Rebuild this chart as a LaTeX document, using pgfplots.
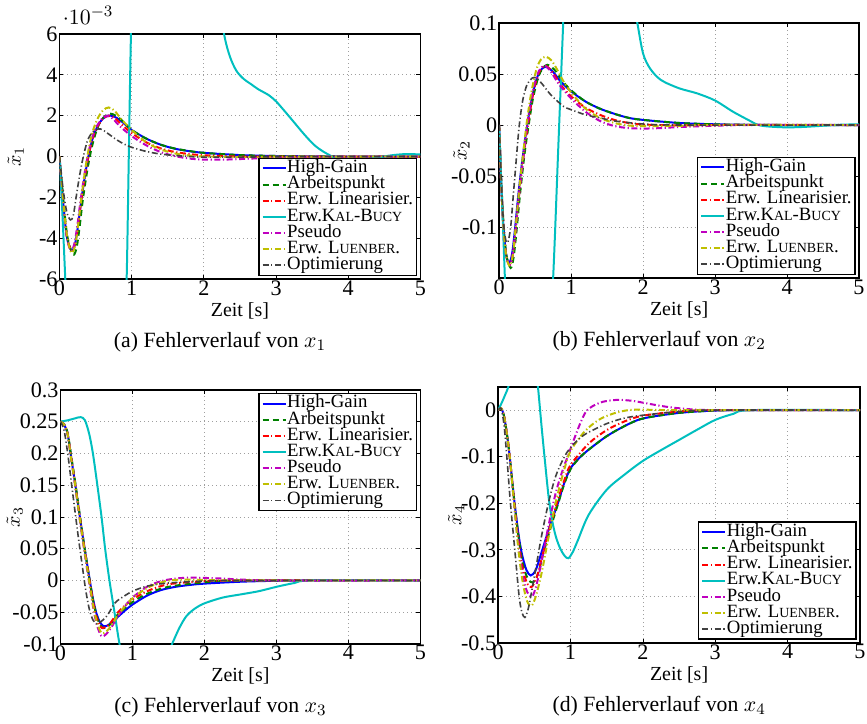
\documentclass[border=0pt]{standalone}
\usepackage{fontspec}
\setmainfont{Liberation Serif}
\usepackage{pgfplots}
\pgfplotsset{compat=1.18}

% MATLAB-like line colours
\definecolor{mblue}{rgb}{0,0,1}
\definecolor{mgreen}{rgb}{0,0.5,0}
\definecolor{mred}{rgb}{1,0,0}
\definecolor{mcyan}{rgb}{0,0.75,0.75}
\definecolor{mmagenta}{rgb}{0.75,0,0.75}
\definecolor{molive}{rgb}{0.75,0.75,0}
\definecolor{mgray}{rgb}{0.25,0.25,0.25}

% reduced capitals for the observer names
\newcommand{\ksc}[1]{{\fontsize{7pt}{7pt}\selectfont #1}}

\tikzset{mdashdot/.style={dash pattern=on 3pt off 1.3pt on 0.6pt off 1.3pt}}

\pgfplotsset{
  hg/.style={mblue, solid, line width=1pt, smooth, no markers},
  ap/.style={mgreen, dash pattern=on 3pt off 2pt, line width=1pt, smooth, no markers},
  el/.style={mred, mdashdot, line width=1pt, smooth, no markers},
  kb/.style={mcyan, solid, line width=1pt, smooth, no markers},
  ps/.style={mmagenta, mdashdot, line width=1pt, smooth, no markers},
  lu/.style={molive, mdashdot, line width=1pt, smooth, no markers},
  op/.style={mgray, mdashdot, line width=0.8pt, smooth, no markers},
  errplot/.style={
    scale only axis,
    xmin=0, xmax=5, xtick={0,1,2,3,4,5},
    scaled y ticks=false,
    axis line style={line width=0.8pt},
    tick align=inside, major tick length=2pt,
    tick style={black, line width=0.4pt},
    grid=major,
    major grid style={gray!75, line width=0.4pt, dash pattern=on 0.5pt off 1.5pt},
    /pgf/number format/assume math mode=true,
    tick label style={font=\fontsize{11.1}{12}\selectfont},
    xticklabel style={inner sep=0.5pt},
    yticklabel style={inner sep=0.8pt},
    label style={font=\fontsize{10.9}{12}\selectfont},
    xlabel={Zeit [s]},
    every axis x label/.style={at={(axis description cs:0.5,0)}, anchor=center, yshift=-15.8pt},
    legend cell align=left,
    legend style={font=\fontsize{9.4}{9}\selectfont, draw=black, line width=0.8pt,
      fill=white, inner xsep=1.5pt, inner ysep=1pt, row sep=0pt,
      nodes={inner sep=0.3pt, text height=5.9pt, text depth=1.6pt}},
    legend image code/.code={\draw[##1] plot coordinates {(0pt,0pt) (5.75pt,0pt) (11.5pt,0pt)};},
  },
  ylab/.style={every axis y label/.style={at={(axis description cs:-#1,0.5)}, anchor=center, rotate=90}},
  subcap/.style={extra description/.code={
    \node[font=\fontsize{10.9}{12}\selectfont, anchor=center] at (0.5,0) [xshift=-10pt, yshift=-31.5pt] {#1};}},
}

\newcommand{\obslegend}{\legend{High-Gain, Arbeitspunkt, Erw. Linearisier., Erw.K\ksc{AL}-B\ksc{UCY}, Pseudo, Erw. L\ksc{UENBER}., Optimierung}}

\begin{document}
\begin{tikzpicture}
\path (0pt,0pt) rectangle (433.5pt,357.5pt);

% ---------------- (a) error of x1 ----------------
\begin{axis}[errplot, at={(28.5pt,217.5pt)}, anchor=south west,
  width=181pt, height=123pt,
  ymin=-0.006, ymax=0.006,
  ytick={-0.006,-0.004,-0.002,0,0.002,0.004,0.006},
  yticklabels={-6,-4,-2,0,2,4,6},
  ylabel={$\tilde{x}_1$}, ylab=0.1215,
  subcap={(a) Fehlerverlauf von $x_1$},
  extra description/.append code={\node[anchor=base west, inner sep=0pt, font=\fontsize{10.9}{12}\selectfont] at (0,1) [xshift=1.5pt, yshift=4.5pt] {$\cdot 10^{-3}$};},
  legend style={at={(1,0)}, anchor=south east, xshift=-1.5pt, yshift=1.5pt},
]
\addplot[hg] coordinates {(0,0)(0.05,-2.2e-3)(0.1,-3.9e-3)(0.15,-4.5e-3)(0.18,-4.6e-3)(0.22,-4.2e-3)(0.26,-3.3e-3)(0.3,-2.2e-3)(0.35,-1.0e-3)(0.4,0)(0.46,0.9e-3)(0.53,1.5e-3)(0.6,1.85e-3)(0.68,2.0e-3)(0.76,1.95e-3)(0.85,1.75e-3)(1.0,1.3e-3)(1.2,0.88e-3)(1.4,0.58e-3)(1.6,0.38e-3)(1.8,0.26e-3)(2.0,0.18e-3)(2.5,0.07e-3)(3.0,0.025e-3)(3.5,0.008e-3)(4.0,0)(5.0,0)};
\addplot[ap] coordinates {(0,0)(0.05,-2.0e-3)(0.1,-3.7e-3)(0.15,-4.5e-3)(0.2,-4.8e-3)(0.24,-4.4e-3)(0.28,-3.4e-3)(0.32,-2.2e-3)(0.37,-1.0e-3)(0.42,0)(0.48,0.9e-3)(0.55,1.6e-3)(0.62,1.95e-3)(0.7,2.1e-3)(0.78,2.0e-3)(0.87,1.75e-3)(1.0,1.3e-3)(1.2,0.88e-3)(1.4,0.58e-3)(1.6,0.39e-3)(1.8,0.27e-3)(2.0,0.18e-3)(2.5,0.07e-3)(3.0,0.025e-3)(3.5,0.008e-3)(4.0,0)(5.0,0)};
\addplot[el] coordinates {(0,0)(0.05,-2.2e-3)(0.1,-3.9e-3)(0.15,-4.5e-3)(0.18,-4.6e-3)(0.22,-4.2e-3)(0.26,-3.3e-3)(0.3,-2.2e-3)(0.35,-1.0e-3)(0.4,0)(0.46,0.9e-3)(0.53,1.5e-3)(0.6,1.85e-3)(0.68,2.0e-3)(0.76,1.9e-3)(0.85,1.6e-3)(1.0,1.15e-3)(1.2,0.7e-3)(1.4,0.4e-3)(1.6,0.22e-3)(1.8,0.12e-3)(2.0,0.06e-3)(2.5,0)(3.0,-0.01e-3)(4.0,0)(5.0,0)};
\addplot[kb] coordinates {(0,0)(0.04,-2.8e-3)(0.08,-6e-3)(0.12,-9.5e-3)(0.2,-15e-3)(0.35,-20e-3)(0.5,-21e-3)(0.65,-18e-3)(0.8,-12e-3)(0.9,-7.5e-3)(0.93,-6e-3)(0.96,0)(0.99,6e-3)(1.03,11e-3)(1.2,20e-3)(1.5,24e-3)(1.8,19e-3)(2.05,12e-3)(2.2,8.2e-3)(2.28,6e-3)(2.36,4.9e-3)(2.45,4.2e-3)(2.55,3.8e-3)(2.65,3.55e-3)(2.75,3.3e-3)(2.9,3.0e-3)(3.0,2.7e-3)(3.1,2.3e-3)(3.22,1.8e-3)(3.35,1.25e-3)(3.45,0.85e-3)(3.55,0.5e-3)(3.65,0.25e-3)(3.75,0.05e-3)(3.85,-0.12e-3)(4.0,-0.2e-3)(4.2,-0.16e-3)(4.4,-0.06e-3)(4.6,0.06e-3)(4.8,0.12e-3)(5.0,0.1e-3)};
\addplot[ps] coordinates {(0,0)(0.05,-2.2e-3)(0.1,-3.9e-3)(0.14,-4.5e-3)(0.17,-4.6e-3)(0.21,-4.2e-3)(0.25,-3.3e-3)(0.29,-2.2e-3)(0.34,-1.0e-3)(0.39,0)(0.45,0.9e-3)(0.52,1.5e-3)(0.59,1.85e-3)(0.66,2.0e-3)(0.74,1.85e-3)(0.83,1.5e-3)(1.0,1.0e-3)(1.2,0.55e-3)(1.4,0.22e-3)(1.6,0.02e-3)(1.8,-0.1e-3)(2.0,-0.15e-3)(2.3,-0.15e-3)(2.6,-0.11e-3)(3.0,-0.05e-3)(3.5,-0.01e-3)(4.0,0)(5.0,0)};
\addplot[lu] coordinates {(0,0)(0.05,-2.1e-3)(0.1,-3.8e-3)(0.15,-4.6e-3)(0.18,-4.7e-3)(0.22,-4.3e-3)(0.26,-3.3e-3)(0.3,-2.1e-3)(0.35,-0.8e-3)(0.39,0.1e-3)(0.45,1.1e-3)(0.52,1.8e-3)(0.6,2.25e-3)(0.68,2.4e-3)(0.76,2.25e-3)(0.85,1.85e-3)(1.0,1.3e-3)(1.2,0.7e-3)(1.4,0.35e-3)(1.6,0.15e-3)(1.8,0.05e-3)(2.0,0)(2.5,-0.03e-3)(3.0,-0.01e-3)(4.0,0)(5.0,0)};
\addplot[op] coordinates {(0,0)(0.05,-1.6e-3)(0.1,-2.7e-3)(0.15,-3.1e-3)(0.19,-2.9e-3)(0.23,-2.0e-3)(0.28,-0.9e-3)(0.33,0)(0.39,0.8e-3)(0.46,1.2e-3)(0.54,1.35e-3)(0.6,1.3e-3)(0.7,1.05e-3)(0.8,0.8e-3)(0.9,0.6e-3)(1.0,0.45e-3)(1.2,0.25e-3)(1.4,0.12e-3)(1.6,0.05e-3)(1.8,0)(2.0,-0.03e-3)(2.5,-0.03e-3)(3.0,-0.01e-3)(4.0,0)(5.0,0)};
\obslegend
\end{axis}

% ---------------- (b) error of x2 ----------------
\begin{axis}[errplot, at={(249pt,218pt)}, anchor=south west,
  width=180.5pt, height=128pt,
  ymin=-0.15, ymax=0.1,
  ytick={-0.1,-0.05,0,0.05,0.1},
  yticklabels={-0.1,-0.05,0,0.05,0.1},
  ylabel={$\tilde{x}_2$}, ylab=0.105,
  subcap={(b) Fehlerverlauf von $x_2$},
  legend style={at={(1,0)}, anchor=south east, xshift=-1.5pt, yshift=1.5pt},
]
\addplot[hg] coordinates {(0,0)(0.03,-0.06)(0.06,-0.1)(0.1,-0.128)(0.14,-0.135)(0.18,-0.126)(0.22,-0.102)(0.27,-0.066)(0.33,-0.03)(0.39,0)(0.45,0.025)(0.52,0.045)(0.58,0.054)(0.65,0.057)(0.75,0.052)(0.85,0.043)(1.0,0.033)(1.2,0.023)(1.4,0.016)(1.6,0.011)(1.8,0.007)(2.0,0.005)(2.5,0.002)(3.0,0.0007)(3.5,0.0002)(4.0,0)(5.0,0)};
\addplot[ap] coordinates {(0,0)(0.03,-0.055)(0.06,-0.095)(0.1,-0.127)(0.16,-0.14)(0.2,-0.13)(0.24,-0.105)(0.29,-0.068)(0.35,-0.03)(0.41,0)(0.47,0.026)(0.54,0.046)(0.6,0.055)(0.67,0.059)(0.77,0.054)(0.87,0.044)(1.0,0.034)(1.2,0.023)(1.4,0.016)(1.6,0.011)(1.8,0.007)(2.0,0.005)(2.5,0.002)(3.0,0.0007)(3.5,0.0002)(4.0,0)(5.0,0)};
\addplot[el] coordinates {(0,0)(0.03,-0.06)(0.06,-0.1)(0.1,-0.129)(0.15,-0.137)(0.19,-0.127)(0.23,-0.102)(0.28,-0.066)(0.34,-0.03)(0.4,0)(0.46,0.026)(0.52,0.045)(0.58,0.055)(0.65,0.058)(0.75,0.051)(0.85,0.04)(1.0,0.028)(1.2,0.017)(1.4,0.01)(1.6,0.005)(1.8,0.002)(2.0,0.0005)(2.5,-0.0005)(3.0,0)(5.0,0)};
\addplot[kb] coordinates {(0,0)(0.04,-0.075)(0.08,-0.15)(0.15,-0.28)(0.3,-0.42)(0.5,-0.42)(0.65,-0.28)(0.75,-0.15)(0.82,-0.025)(0.89,0.1)(0.95,0.2)(1.2,0.38)(1.5,0.33)(1.75,0.18)(1.87,0.12)(1.92,0.1)(2.0,0.07)(2.1,0.055)(2.25,0.044)(2.5,0.036)(2.75,0.031)(3.0,0.024)(3.25,0.013)(3.5,0.0035)(3.6,0)(3.75,-0.0015)(4.0,-0.0023)(4.25,-0.0018)(4.5,-0.0007)(4.75,0.0003)(5.0,0.0007)};
\addplot[ps] coordinates {(0,0)(0.03,-0.06)(0.06,-0.1)(0.1,-0.129)(0.15,-0.137)(0.19,-0.127)(0.23,-0.102)(0.28,-0.066)(0.34,-0.03)(0.39,0)(0.45,0.026)(0.51,0.045)(0.57,0.055)(0.64,0.058)(0.73,0.051)(0.83,0.04)(1.0,0.026)(1.2,0.013)(1.4,0.004)(1.6,-0.001)(1.8,-0.003)(2.0,-0.0035)(2.25,-0.003)(2.5,-0.002)(3.0,-0.0007)(3.5,0)(5.0,0)};
\addplot[lu] coordinates {(0,0)(0.03,-0.06)(0.06,-0.1)(0.1,-0.129)(0.15,-0.138)(0.19,-0.127)(0.23,-0.1)(0.28,-0.062)(0.34,-0.024)(0.39,0.006)(0.45,0.033)(0.52,0.055)(0.58,0.064)(0.65,0.067)(0.73,0.063)(0.8,0.055)(0.9,0.042)(1.0,0.032)(1.2,0.016)(1.4,0.007)(1.6,0.002)(1.8,-0.0005)(2.0,-0.001)(2.5,-0.0008)(3.0,0)(5.0,0)};
\addplot[op] coordinates {(0,0)(0.03,-0.055)(0.06,-0.095)(0.09,-0.112)(0.12,-0.115)(0.16,-0.1)(0.2,-0.066)(0.24,-0.032)(0.28,0)(0.33,0.025)(0.39,0.04)(0.46,0.046)(0.52,0.046)(0.6,0.04)(0.7,0.031)(0.8,0.024)(0.9,0.018)(1.0,0.015)(1.2,0.01)(1.4,0.007)(1.6,0.004)(2.0,0.001)(2.5,0)(5.0,0)};
\obslegend
\end{axis}

% ---------------- (c) error of x3 ----------------
\begin{axis}[errplot, at={(29pt,34.5pt)}, anchor=south west,
  width=180.5pt, height=127.5pt,
  ymin=-0.1, ymax=0.3,
  ytick={-0.1,-0.05,0,0.05,0.1,0.15,0.2,0.25,0.3},
  yticklabels={-0.1,-0.05,0,0.05,0.1,0.15,0.2,0.25,0.3},
  ylabel={$\tilde{x}_3$}, ylab=0.127,
  subcap={(c) Fehlerverlauf von $x_3$},
  legend style={at={(1,1)}, anchor=north east, xshift=-1.5pt, yshift=-1.5pt},
]
\addplot[hg] coordinates {(0,0.25)(0.05,0.245)(0.1,0.23)(0.15,0.192)(0.2,0.155)(0.25,0.115)(0.3,0.076)(0.35,0.04)(0.4,0.005)(0.45,-0.028)(0.5,-0.052)(0.55,-0.066)(0.6,-0.072)(0.65,-0.071)(0.7,-0.067)(0.8,-0.057)(0.9,-0.047)(1.0,-0.038)(1.2,-0.024)(1.4,-0.015)(1.6,-0.01)(1.8,-0.007)(2.0,-0.005)(2.5,-0.002)(3.0,-0.0005)(3.5,0)(5.0,0)};
\addplot[ap] coordinates {(0,0.25)(0.05,0.246)(0.1,0.232)(0.15,0.195)(0.2,0.158)(0.25,0.118)(0.3,0.078)(0.35,0.04)(0.4,0.004)(0.45,-0.03)(0.5,-0.055)(0.55,-0.07)(0.6,-0.075)(0.65,-0.073)(0.7,-0.068)(0.8,-0.053)(0.9,-0.043)(1.0,-0.034)(1.2,-0.021)(1.5,-0.01)(2.0,-0.003)(2.5,0)(5.0,0)};
\addplot[el] coordinates {(0,0.25)(0.05,0.245)(0.1,0.23)(0.15,0.192)(0.2,0.155)(0.25,0.115)(0.3,0.075)(0.35,0.038)(0.4,0.002)(0.45,-0.032)(0.5,-0.058)(0.55,-0.072)(0.58,-0.075)(0.65,-0.072)(0.7,-0.066)(0.8,-0.05)(0.9,-0.039)(1.0,-0.03)(1.2,-0.017)(1.5,-0.006)(2.0,-0.001)(2.5,0)(5.0,0)};
\addplot[kb] coordinates {(0,0.25)(0.1,0.252)(0.2,0.255)(0.28,0.257)(0.34,0.252)(0.4,0.23)(0.45,0.2)(0.5,0.16)(0.57,0.1)(0.62,0.05)(0.68,0)(0.75,-0.05)(0.82,-0.1)(0.9,-0.14)(1.1,-0.18)(1.3,-0.16)(1.45,-0.125)(1.55,-0.1)(1.65,-0.075)(1.75,-0.056)(1.87,-0.044)(2.0,-0.036)(2.25,-0.027)(2.5,-0.022)(2.75,-0.017)(3.0,-0.01)(3.25,-0.004)(3.5,0)(5.0,0)};
\addplot[ps] coordinates {(0,0.25)(0.05,0.245)(0.1,0.23)(0.15,0.19)(0.2,0.152)(0.25,0.11)(0.3,0.07)(0.35,0.032)(0.4,-0.005)(0.45,-0.04)(0.5,-0.068)(0.55,-0.084)(0.58,-0.088)(0.63,-0.085)(0.7,-0.075)(0.8,-0.056)(0.9,-0.04)(1.0,-0.027)(1.2,-0.01)(1.4,-0.001)(1.6,0.003)(1.8,0.0045)(2.0,0.004)(2.25,0.003)(2.5,0.0015)(3.0,0)(5.0,0)};
\addplot[lu] coordinates {(0,0.25)(0.05,0.245)(0.1,0.23)(0.15,0.19)(0.2,0.153)(0.25,0.112)(0.3,0.072)(0.35,0.035)(0.4,-0.002)(0.45,-0.037)(0.5,-0.064)(0.55,-0.079)(0.58,-0.083)(0.63,-0.081)(0.7,-0.072)(0.8,-0.054)(0.9,-0.04)(1.0,-0.028)(1.2,-0.012)(1.4,-0.003)(1.6,0.001)(2.0,0.001)(2.5,0)(5.0,0)};
\addplot[op] coordinates {(0,0.25)(0.05,0.236)(0.1,0.2)(0.15,0.155)(0.2,0.11)(0.25,0.066)(0.3,0.025)(0.35,-0.015)(0.4,-0.045)(0.45,-0.062)(0.5,-0.068)(0.55,-0.066)(0.65,-0.055)(0.76,-0.035)(0.88,-0.025)(1.0,-0.017)(1.2,-0.009)(1.5,-0.004)(2.0,-0.001)(2.5,0)(5.0,0)};
\obslegend
\end{axis}

% ---------------- (d) error of x4 ----------------
\begin{axis}[errplot, at={(248.5pt,35pt)}, anchor=south west,
  width=181.5pt, height=128.5pt,
  ymin=-0.5, ymax=0.05,
  ytick={-0.5,-0.4,-0.3,-0.2,-0.1,0},
  yticklabels={-0.5,-0.4,-0.3,-0.2,-0.1,0},
  ylabel={$\tilde{x}_4$}, ylab=0.116,
  subcap={(d) Fehlerverlauf von $x_4$},
  legend style={at={(1,0)}, anchor=south east, xshift=-1.5pt, yshift=1.5pt},
]
\addplot[hg] coordinates {(0,0)(0.04,0.004)(0.08,-0.012)(0.12,-0.05)(0.16,-0.1)(0.22,-0.19)(0.28,-0.265)(0.33,-0.31)(0.39,-0.343)(0.45,-0.355)(0.52,-0.343)(0.61,-0.3)(0.72,-0.246)(0.83,-0.198)(0.91,-0.158)(1.0,-0.125)(1.12,-0.103)(1.25,-0.085)(1.5,-0.056)(1.75,-0.034)(2.0,-0.018)(2.5,-0.006)(3.0,-0.001)(3.5,0)(5.0,0)};
\addplot[ap] coordinates {(0,0)(0.04,0.004)(0.08,-0.012)(0.12,-0.05)(0.16,-0.1)(0.22,-0.19)(0.28,-0.27)(0.34,-0.33)(0.41,-0.362)(0.48,-0.37)(0.55,-0.352)(0.62,-0.31)(0.72,-0.255)(0.83,-0.2)(0.91,-0.16)(1.0,-0.127)(1.12,-0.103)(1.25,-0.085)(1.5,-0.056)(1.75,-0.034)(2.0,-0.018)(2.5,-0.006)(3.0,-0.001)(3.5,0)(5.0,0)};
\addplot[el] coordinates {(0,0)(0.04,0.004)(0.08,-0.012)(0.12,-0.05)(0.16,-0.1)(0.22,-0.195)(0.28,-0.28)(0.34,-0.34)(0.4,-0.372)(0.46,-0.38)(0.53,-0.36)(0.6,-0.32)(0.7,-0.26)(0.83,-0.19)(0.92,-0.148)(1.0,-0.118)(1.25,-0.072)(1.5,-0.043)(1.75,-0.024)(2.0,-0.012)(2.5,-0.003)(3.0,0)(5.0,0)};
\addplot[kb] coordinates {(0,0)(0.05,0.016)(0.1,0.034)(0.14,0.05)(0.2,0.09)(0.28,0.15)(0.36,0.18)(0.45,0.16)(0.5,0.12)(0.55,0.05)(0.6,-0.035)(0.65,-0.115)(0.7,-0.19)(0.75,-0.24)(0.8,-0.273)(0.86,-0.298)(0.92,-0.313)(0.97,-0.318)(1.03,-0.305)(1.1,-0.28)(1.25,-0.225)(1.5,-0.171)(1.75,-0.138)(2.0,-0.109)(2.25,-0.086)(2.5,-0.064)(2.75,-0.042)(3.0,-0.021)(3.25,-0.008)(3.5,0)(5.0,0)};
\addplot[ps] coordinates {(0,0)(0.04,0.004)(0.08,-0.012)(0.12,-0.05)(0.16,-0.1)(0.22,-0.2)(0.28,-0.29)(0.34,-0.355)(0.4,-0.39)(0.47,-0.4)(0.53,-0.375)(0.6,-0.325)(0.7,-0.245)(0.8,-0.175)(0.9,-0.125)(0.96,-0.1)(1.05,-0.062)(1.13,-0.03)(1.21,-0.004)(1.3,0.008)(1.45,0.018)(1.65,0.022)(1.85,0.02)(2.0,0.016)(2.25,0.009)(2.5,0.004)(3.0,0)(5.0,0)};
\addplot[lu] coordinates {(0,0)(0.04,0.004)(0.08,-0.012)(0.12,-0.05)(0.16,-0.1)(0.22,-0.2)(0.28,-0.3)(0.34,-0.37)(0.4,-0.41)(0.46,-0.42)(0.52,-0.4)(0.6,-0.35)(0.7,-0.27)(0.8,-0.195)(0.9,-0.135)(1.0,-0.088)(1.2,-0.045)(1.4,-0.02)(1.6,-0.007)(1.8,0)(2.0,0.001)(2.5,0)(5.0,0)};
\addplot[op] coordinates {(0,0)(0.04,0.003)(0.08,-0.03)(0.12,-0.1)(0.17,-0.2)(0.23,-0.3)(0.29,-0.4)(0.33,-0.435)(0.37,-0.445)(0.41,-0.43)(0.45,-0.4)(0.52,-0.34)(0.6,-0.27)(0.7,-0.196)(0.8,-0.14)(0.93,-0.096)(1.05,-0.072)(1.2,-0.052)(1.5,-0.029)(1.75,-0.017)(2.0,-0.011)(2.5,-0.003)(3.0,0)(5.0,0)};
\obslegend
\end{axis}
\end{tikzpicture}
\end{document}
